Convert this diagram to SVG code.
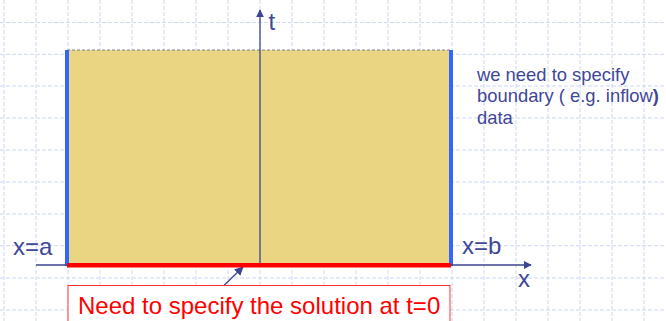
<svg xmlns="http://www.w3.org/2000/svg" width="666" height="321" viewBox="0 0 666 321">
<defs>
<style>
.grid line{stroke:#ccd6f6;stroke-width:1;stroke-dasharray:4 2}
.ax{stroke:#3d4590;stroke-width:1.3;fill:none}
.lbl{font-family:"Liberation Sans",Arial,sans-serif;fill:#3f4797}
</style>
<marker id="ah" viewBox="0 0 10 10" refX="9" refY="5" markerWidth="8" markerHeight="8" markerUnits="userSpaceOnUse" orient="auto"><path d="M0,0 L10,5 L0,10 z" fill="#3d4590"/></marker>
<marker id="ah2" viewBox="0 0 10 10" refX="9" refY="5" markerWidth="9" markerHeight="9" markerUnits="userSpaceOnUse" orient="auto"><path d="M0,0 L10,5 L0,10 z" fill="#3d4590"/></marker>
</defs>
<rect width="666" height="321" fill="#ffffff"/>
<g class="grid">
<line x1="4" y1="0" x2="4" y2="321"/><line x1="36" y1="0" x2="36" y2="321"/><line x1="68" y1="0" x2="68" y2="321"/><line x1="100" y1="0" x2="100" y2="321"/><line x1="132" y1="0" x2="132" y2="321"/><line x1="164" y1="0" x2="164" y2="321"/><line x1="196" y1="0" x2="196" y2="321"/><line x1="228" y1="0" x2="228" y2="321"/><line x1="260" y1="0" x2="260" y2="321"/><line x1="292" y1="0" x2="292" y2="321"/><line x1="324" y1="0" x2="324" y2="321"/><line x1="356" y1="0" x2="356" y2="321"/><line x1="388" y1="0" x2="388" y2="321"/><line x1="420" y1="0" x2="420" y2="321"/><line x1="452" y1="0" x2="452" y2="321"/><line x1="484" y1="0" x2="484" y2="321"/><line x1="516" y1="0" x2="516" y2="321"/><line x1="548" y1="0" x2="548" y2="321"/><line x1="580" y1="0" x2="580" y2="321"/><line x1="612" y1="0" x2="612" y2="321"/><line x1="644" y1="0" x2="644" y2="321"/>
<line x1="0" y1="22.5" x2="666" y2="22.5"/><line x1="0" y1="54.3" x2="666" y2="54.3"/><line x1="0" y1="86" x2="666" y2="86"/><line x1="0" y1="118" x2="666" y2="118"/><line x1="0" y1="150" x2="666" y2="150"/><line x1="0" y1="182" x2="666" y2="182"/><line x1="0" y1="214" x2="666" y2="214"/><line x1="0" y1="245.7" x2="666" y2="245.7"/><line x1="0" y1="278" x2="666" y2="278"/><line x1="0" y1="310" x2="666" y2="310"/>
</g>
<g id="domain">
<rect x="67" y="50" width="384" height="215" fill="#e9d582"/>
<line x1="67" y1="50" x2="451" y2="50" stroke="#7a7f96" stroke-width="1" stroke-dasharray="3 2"/>
<rect x="65" y="50" width="4" height="216" fill="#3366ff"/>
<rect x="449" y="50" width="4" height="216" fill="#3366ff"/>
</g>
<g id="connectors">
<line class="ax" x1="260" y1="265" x2="260" y2="10" marker-end="url(#ah)"/>
<line class="ax" x1="36" y1="265" x2="531" y2="265" marker-end="url(#ah)"/>
<line class="ax" x1="212" y1="297" x2="243" y2="267" marker-end="url(#ah2)"/>
</g>
<g id="initial">
<rect x="67" y="263" width="384" height="4.5" fill="#ff0000"/>
</g>
<g id="labels">
<text class="lbl" x="268.5" y="30" font-size="24">t</text>
<text class="lbl" x="13" y="255" font-size="24">x=a</text>
<text class="lbl" x="462" y="254" font-size="24">x=b</text>
<text class="lbl" x="518" y="287" font-size="24">x</text>
</g>
<g id="note">
<text class="lbl" font-size="18.4"><tspan x="477" y="80.5">we need to specify</tspan><tspan x="477" y="102">boundary ( e.g. inflow<tspan font-weight="bold">)</tspan></tspan><tspan x="477" y="123.5">data</tspan></text>
</g>
<g id="initial-note">
<rect x="68" y="285.5" width="382" height="40" fill="#ffffff" stroke="#ff3333" stroke-width="1"/>
<text x="78" y="314" font-family="'Liberation Sans',Arial,sans-serif" font-size="24" fill="#ff0000">Need to specify the solution at t=0</text>
</g>
</svg>
